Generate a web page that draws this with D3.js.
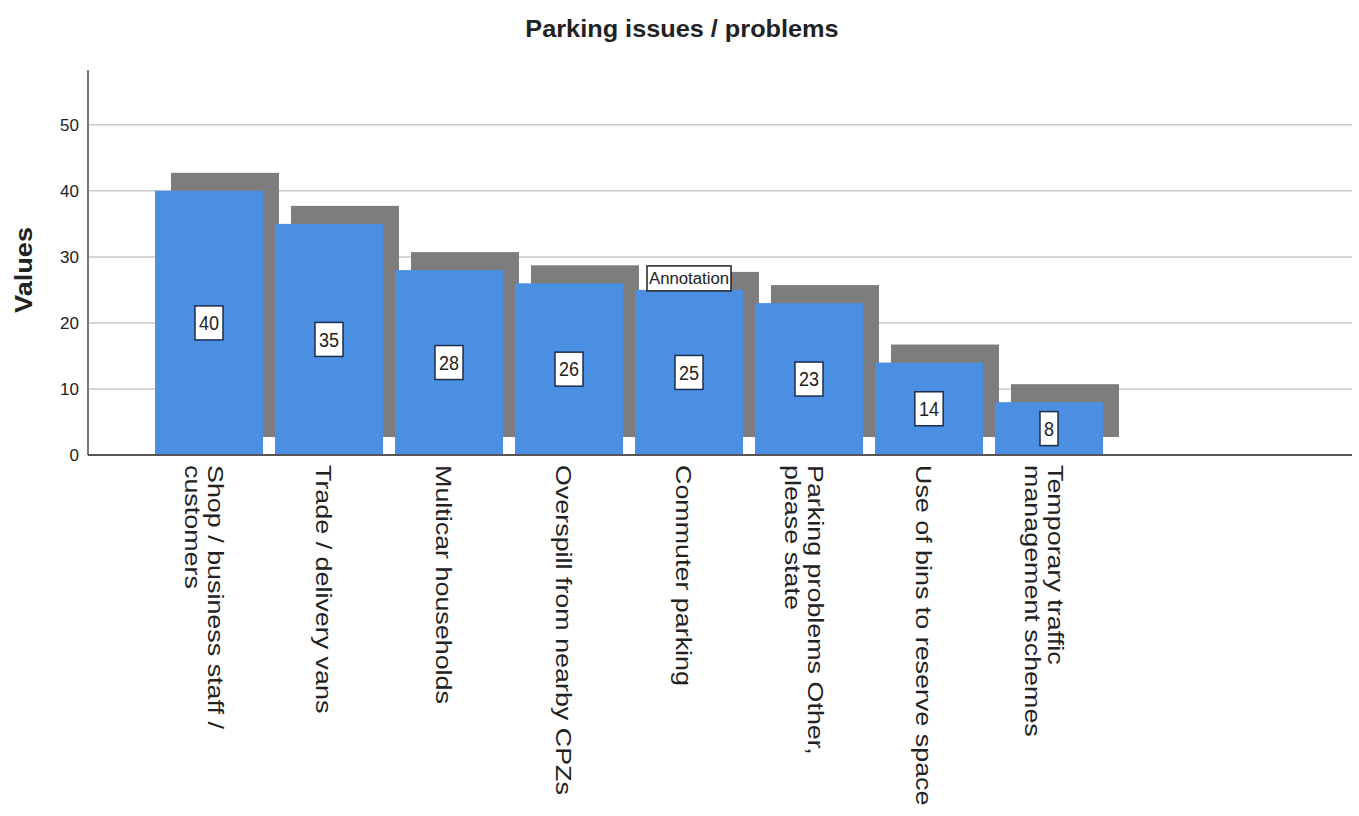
<!DOCTYPE html>
<html>
<head>
<meta charset="utf-8">
<script src="https://cdn.jsdelivr.net/npm/d3@7"></script>
<style>
  body { margin: 0; background: #fff; }
  text { font-family: "Liberation Sans", Arial, sans-serif; fill: #222; }
</style>
</head>
<body>
<svg id="chart" width="1359" height="816"></svg>
<script>
// Data
const categories = [
  ["Shop / business staff /", "customers"],
  ["Trade / delivery vans"],
  ["Multicar households"],
  ["Overspill from nearby CPZs"],
  ["Commuter parking"],
  ["Parking problems Other,", "please state"],
  ["Use of bins to reserve space"],
  ["Temporary traffic", "management schemes"]
];
const values = [40, 35, 28, 26, 25, 23, 14, 8];
const yTicks = [0, 10, 20, 30, 40, 50];
const annotation = { index: 4, value: 25, text: "Annotation" };

const data = categories.map((c, i) => ({ lines: c, value: values[i], key: c.join(" ") }));

const svg = d3.select("#chart");
const blue = "#4a8fe2";
const shade = "#7d7d7d";
const shadowDx = 16, shadowDy = -18;

const x = d3.scaleBand()
  .domain(data.map(d => d.key))
  .range([149, 1109])
  .paddingInner(0.1)
  .paddingOuter(0.05);

const y = d3.scaleLinear()
  .domain([0, 58.3])
  .range([455, 70]);

// Title
svg.append("text")
  .attr("transform", "translate(682,37) scale(1.1,1)")
  .attr("text-anchor", "middle")
  .attr("font-size", 23)
  .attr("font-weight", "bold")
  .text("Parking issues / problems");

// Y axis title
svg.append("text")
  .attr("transform", "translate(32,270) rotate(-90) scale(1.13,1)")
  .attr("text-anchor", "middle")
  .attr("font-size", 24)
  .attr("font-weight", "bold")
  .text("Values");

// Gridlines
svg.selectAll("line.grid")
  .data(yTicks.filter(t => t > 0))
  .enter()
  .append("line")
  .attr("class", "grid")
  .attr("x1", 88)
  .attr("x2", 1352)
  .attr("y1", d => y(d))
  .attr("y2", d => y(d))
  .attr("stroke", "#c9c9c9")
  .attr("stroke-width", 1.5);

// Y tick labels
svg.selectAll("text.ytick")
  .data(yTicks)
  .enter()
  .append("text")
  .attr("class", "ytick")
  .attr("x", 79)
  .attr("y", d => y(d))
  .attr("dy", "0.35em")
  .attr("text-anchor", "end")
  .attr("font-size", 17)
  .text(d => d);

// Shadows first, then bars on top
svg.selectAll("rect.shadow")
  .data(data)
  .enter()
  .append("rect")
  .attr("class", "shadow")
  .attr("x", d => x(d.key) + shadowDx)
  .attr("y", d => y(d.value) + shadowDy)
  .attr("width", x.bandwidth())
  .attr("height", d => y(0) - y(d.value))
  .attr("fill", shade);

svg.selectAll("rect.bar")
  .data(data)
  .enter()
  .append("rect")
  .attr("class", "bar")
  .attr("x", d => x(d.key))
  .attr("y", d => y(d.value))
  .attr("width", x.bandwidth())
  .attr("height", d => y(0) - y(d.value))
  .attr("fill", blue);

// Axis lines
svg.append("line")
  .attr("x1", 88).attr("x2", 88)
  .attr("y1", 70).attr("y2", 455)
  .attr("stroke", "#777")
  .attr("stroke-width", 2);

svg.append("line")
  .attr("x1", 88).attr("x2", 1352)
  .attr("y1", 455).attr("y2", 455)
  .attr("stroke", "#555")
  .attr("stroke-width", 2);

// Value labels in boxes
const labels = svg.selectAll("g.vlabel")
  .data(data)
  .enter()
  .append("g")
  .attr("class", "vlabel")
  .attr("transform", d => `translate(${x(d.key) + x.bandwidth() / 2}, ${(y(0) + y(d.value)) / 2})`);

labels.append("text")
  .attr("text-anchor", "middle")
  .attr("dy", "0.36em")
  .attr("font-size", 18)
  .attr("transform", "scale(1,1.12)")
  .text(d => d.value);

labels.each(function () {
  const g = d3.select(this);
  const bb = g.select("text").node().getBBox();
  g.insert("rect", "text")
    .attr("x", -bb.width / 2 - 4)
    .attr("y", -17)
    .attr("width", bb.width + 8)
    .attr("height", 34)
    .attr("fill", "#fff")
    .attr("stroke", "#1c2c4c")
    .attr("stroke-width", 1.5);
});

// Annotation box
const ann = svg.append("g")
  .attr("transform", `translate(${x(data[annotation.index].key) + x.bandwidth() / 2}, ${y(annotation.value) - 12})`);
ann.append("rect")
  .attr("x", -42).attr("y", -12)
  .attr("width", 84).attr("height", 25)
  .attr("fill", "#fff")
  .attr("stroke", "#222")
  .attr("stroke-width", 1.5);
ann.append("text")
  .attr("text-anchor", "middle")
  .attr("dy", "0.36em")
  .attr("font-size", 16)
  .attr("textLength", 80)
  .attr("lengthAdjust", "spacingAndGlyphs")
  .text(annotation.text);

// Rotated category labels
const lineGap = 23;
const catLabels = svg.selectAll("text.cat")
  .data(data)
  .enter()
  .append("text")
  .attr("class", "cat")
  .attr("transform", d => `translate(${x(d.key) + x.bandwidth() / 2}, 465) rotate(90) scale(1.25,1)`)
  .attr("font-size", 21.5)
  .attr("fill", "#333");

catLabels.selectAll("tspan")
  .data(d => d.lines.map((t, i) => ({ t, i, n: d.lines.length })))
  .enter()
  .append("tspan")
  .attr("x", 0)
  .attr("y", d => 5 + (d.i - (d.n - 1) / 2) * lineGap)
  .attr("dominant-baseline", "central")
  .text(d => d.t);
</script>
</body>
</html>
